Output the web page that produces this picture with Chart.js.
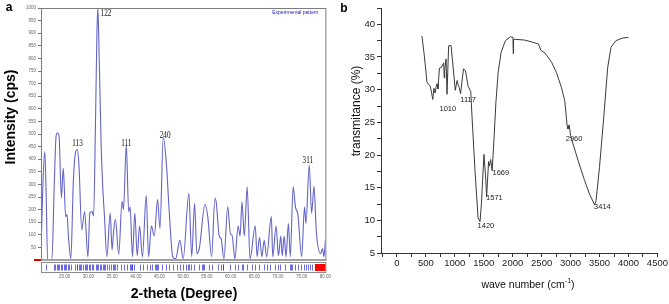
<!DOCTYPE html>
<html>
<head>
<meta charset="utf-8">
<script src="https://cdn.jsdelivr.net/npm/chart.js@4.4.1/dist/chart.umd.min.js"></script>
<style>
html,body{margin:0;padding:0;background:#fff;}
#wrap{position:relative;width:669px;height:304px;overflow:hidden;}
#xrdChart{position:absolute;left:0;top:0;}
#ftirChart{position:absolute;left:330px;top:0;}
</style>
</head>
<body>
<div id="wrap">
<canvas id="xrdChart" width="345" height="304"></canvas>
<canvas id="ftirChart" width="339" height="304"></canvas>
</div>
<script>
// panel a : XRD pattern
const xrdAngle = [20.0,20.4,20.8,21.1,21.4,22.3,22.8,23.2,23.5,23.8,24.3,24.7,25.2,25.5,25.8,26.3,26.8,27.1,27.6,28.0,28.6,29.2,29.9,30.3,30.8,31.1,31.5,31.8,32.0,32.2,32.4,32.7,33.0,33.4,33.9,34.6,35.0,35.3,35.7,36.4,37.1,37.4,38.0,38.5,38.8,39.3,39.8,40.3,40.8,41.4,42.2,42.7,43.3,43.9,44.6,45.1,45.8,46.5,47.0,47.8,48.4,49.3,50.0,51.2,51.8,52.4,52.9,53.4,54.6,55.2,56.0,56.7,57.0,57.6,58.0,58.6,59.4,60.0,60.3,60.9,61.6,62.0,62.4,62.9,63.5,64.1,65.2,65.6,66.1,66.6,67.1,67.6,68.6,68.9,69.6,70.1,70.6,70.9,71.3,71.7,72.2,72.6,73.2,73.7,74.2,75.0,75.6,75.9,76.6,77.1,77.6,78.1,79.0,79.4,79.7,80.0];
const xrdCounts = [30,300,430,250,0,0,300,495,505,495,246,365,172,180,90,5,300,400,439,380,119,192,13,186,192,175,550,900,1000,870,700,450,300,170,13,186,40,110,162,22,233,200,457,192,210,13,185,17,135,13,257,13,135,95,240,125,487,370,210,13,5,78,5,265,13,225,25,45,220,170,13,245,225,95,85,4,212,100,100,4,135,95,230,95,290,4,135,13,90,13,78,13,172,13,135,17,95,17,95,13,145,13,290,210,180,13,210,145,377,185,293,110,25,45,13,80];
const reflections = [21.1,22.8,23.0,23.3,23.5,23.9,24.2,24.4,24.8,25.1,25.3,25.6,26.0,26.4,27.2,27.5,27.7,28.0,28.3,28.5,28.9,29.2,29.5,29.8,30.1,30.4,30.7,31.0,31.6,31.9,32.1,32.4,32.7,33.0,33.3,33.6,34.0,34.3,34.7,35.2,35.5,35.7,36.0,36.9,37.5,38.1,38.7,38.9,39.1,39.3,39.6,40.8,41.6,42.3,43.0,43.4,44.0,44.2,44.4,44.6,45.6,46.4,47.0,47.9,48.6,49.3,50.0,50.5,51.0,51.3,51.6,52.3,53.3,54.0,54.2,54.4,55.4,56.0,57.3,58.0,58.3,58.5,59.8,60.9,61.6,62.4,62.6,63.5,64.5,65.1,66.0,67.0,67.6,68.4,69.3,70.0,70.5,71.4,72.6,72.8,73.0,73.6,74.3,74.9,75.4,76.0,76.3,76.8,77.1];
const excludedRange = [77.8, 80];
const xrdPeakText = ['122','113','111','240','311'];
const xrdPeakAt = [33.7,27.7,38.0,46.2,76.3];
const xrdPeakLevel = [977,461,461,495,397];

// panel b : FTIR spectrum
const ftirWave = [433,470,500,518,547,575,600,620,640,660,680,695,710,735,770,809,818,826,849,866,894,935,974,1009,1040,1060,1077,1100,1151,1185,1231,1276,1300,1350,1402,1436,1460,1504,1530,1550,1584,1600,1620,1646,1680,1710,1749,1800,1875,1960,2005,2010,2015,2046,2200,2330,2444,2490,2559,2672,2757,2843,2900,2940,2955,2975,3000,3026,3128,3242,3328,3414,3440,3499,3573,3641,3698,3783,3897,4000];
const ftirTrans = [38.2,35.5,33.0,31.2,30.8,30.6,29.5,28.5,30.2,29.5,30.5,30.9,30.1,33.3,33.4,34.1,31.8,33.0,34.7,29.3,36.7,36.8,33.2,29.9,31.4,30.7,30.3,29.4,33.2,32.9,30.5,29.7,25.5,17.5,10.4,9.8,12.5,20.1,17.0,13.6,19.0,18.3,19.3,17.6,22.9,28.0,32.6,35.7,37.5,38.1,38.0,35.5,37.7,37.7,37.6,37.3,37.0,36.0,35.6,34.2,32.6,30.3,28.3,24.5,24.0,24.6,23.0,22.2,19.2,16.1,14.0,12.4,13.0,18.1,25.8,33.4,36.5,37.5,37.9,38.0];
const ftirWaveTicks = [-250,0,250,500,750,1000,1250,1500,1750,2000,2250,2500,2750,3000,3250,3500,3750,4000,4250,4500];
const ftirPeakText = ['1010','1117','1669','1571','1420','2960','3414'];
const ftirPeakAt = [880,1231,1795,1684,1538,3060,3550];
const ftirPeakLevel = [27.1,28.5,17.2,13.4,9.2,22.5,12.1];

const sans = "'Liberation Sans', Arial, sans-serif";

const xrdDecor = {
  id: 'xrdDecor',
  afterDatasetsDraw(chart){
    const {ctx, chartArea:a, scales:{x, y}} = chart;
    ctx.save();
    // frame
    ctx.strokeStyle = '#7d7d7d';
    ctx.lineWidth = 1;
    ctx.strokeRect(a.left+0.5, a.top+0.5, a.right-a.left, a.bottom-a.top);
    ctx.strokeStyle = '#a0a0a0';
    ctx.lineWidth = 2;
    ctx.beginPath(); ctx.moveTo(a.left, a.bottom); ctx.lineTo(a.right+1, a.bottom); ctx.stroke();
    // reflection band
    const bTop = a.bottom+2, bH = 10;
    ctx.lineWidth = 1;
    ctx.strokeStyle = '#8a8a8a';
    ctx.strokeRect(a.left+0.5, bTop+0.5, a.right-a.left, bH);
    ctx.fillStyle = '#ff0000';
    const r0 = x.getPixelForValue(excludedRange[0]), r1 = x.getPixelForValue(excludedRange[1]);
    ctx.fillRect(r0, bTop+2, r1-r0, bH-3);
    ctx.strokeStyle = 'rgba(45,45,215,0.7)';
    ctx.lineWidth = 1;
    reflections.forEach(r => {
      const px = Math.round(x.getPixelForValue(r))+0.5;
      ctx.beginPath(); ctx.moveTo(px, bTop+2.5); ctx.lineTo(px, bTop+bH-1.5); ctx.stroke();
    });
    // red zero mark
    ctx.strokeStyle = '#e00000';
    ctx.lineWidth = 2;
    const y0 = y.getPixelForValue(0);
    ctx.beginPath(); ctx.moveTo(a.left-7, y0); ctx.lineTo(a.left, y0); ctx.stroke();
    // legend text
    ctx.fillStyle = '#2020c8';
    ctx.font = '5px ' + sans;
    ctx.textAlign = 'right';
    ctx.textBaseline = 'middle';
    ctx.fillText('Experimental pattern', a.right-7, a.top+5);
    // peak labels
    ctx.fillStyle = '#111';
    ctx.textAlign = 'center';
    xrdPeakText.forEach((t,i) => {
      const px = x.getPixelForValue(xrdPeakAt[i]), py = y.getPixelForValue(xrdPeakLevel[i]);
      ctx.save();
      ctx.translate(px, py);
      ctx.scale(0.72, 1);
      ctx.font = "10px 'Liberation Serif', serif";
      ctx.fillText(t, 0, 0);
      ctx.restore();
    });
    // titles
    ctx.fillStyle = '#000';
    ctx.font = 'bold 14px ' + sans;
    ctx.fillText('2-theta (Degree)', 184, 294);
    ctx.save();
    ctx.translate(11, 117);
    ctx.rotate(-Math.PI/2);
    ctx.fillText('Intensity (cps)', 0, 0);
    ctx.restore();
    ctx.font = 'bold 12px ' + sans;
    ctx.fillText('a', 9, 8);
    ctx.restore();
  }
};

const ftirDecor = {
  id: 'ftirDecor',
  afterDatasetsDraw(chart){
    const {ctx, scales:{x, y}} = chart;
    ctx.save();
    ctx.fillStyle = '#222';
    ctx.textAlign = 'center';
    ctx.textBaseline = 'middle';
    ctx.font = '7.5px ' + sans;
    ftirPeakText.forEach((t,i) => {
      ctx.fillText(t, x.getPixelForValue(ftirPeakAt[i]), y.getPixelForValue(ftirPeakLevel[i]));
    });
    // axis titles
    ctx.fillStyle = '#111';
    ctx.font = '12px ' + sans;
    ctx.save();
    ctx.translate(27, 111);
    ctx.rotate(-Math.PI/2);
    ctx.fillText('transmitance (%)', 0, 0);
    ctx.restore();
    ctx.font = '10.5px ' + sans;
    const main = 'wave number (cm', sup = '-1', tail = ')';
    const w1 = ctx.measureText(main).width;
    ctx.font = '7px ' + sans;
    const w2 = ctx.measureText(sup).width;
    ctx.font = '10.5px ' + sans;
    const w3 = ctx.measureText(tail).width;
    let sx = 198 - (w1+w2+w3)/2;
    ctx.textAlign = 'left';
    ctx.fillText(main, sx, 285);
    ctx.font = '7px ' + sans;
    ctx.fillText(sup, sx+w1, 281);
    ctx.font = '10.5px ' + sans;
    ctx.fillText(tail, sx+w1+w2, 285);
    ctx.textAlign = 'center';
    ctx.font = 'bold 12px ' + sans;
    ctx.fillStyle = '#000';
    ctx.fillText('b', 14, 9);
    ctx.restore();
  }
};

new Chart(document.getElementById('xrdChart'), {
  type: 'line',
  data: {
    datasets: [{
      label: 'Experimental pattern',
      data: xrdAngle.map((a,i) => ({x:a, y:xrdCounts[i]})),
      borderColor: 'rgba(60,60,185,0.8)',
      borderWidth: 1.1,
      pointRadius: 0,
      cubicInterpolationMode: 'monotone',
      fill: false
    }]
  },
  options: {
    responsive: false,
    animation: false,
    layout: { padding: { left:0, top:8, right:9, bottom:0 } },
    plugins: { legend: { display:false }, tooltip: { enabled:false } },
    scales: {
      x: {
        type: 'linear', min:20, max:80,
        afterFit: s => { s.height = 44; },
        grid: { display:false, drawTicks:false },
        border: { display:false },
        ticks: { stepSize:5, padding:14, autoSkip:false, maxRotation:0, color:'#666',
          font: { size:4.5, family:sans },
          callback: v => v >= 25 ? v.toFixed(2) : '' }
      },
      y: {
        min:0, max:1000,
        afterFit: s => { s.width = 41; },
        grid: { drawOnChartArea:false, drawTicks:true, tickLength:3, color:'#777' },
        border: { display:true, color:'#666' },
        ticks: { stepSize:50, padding:2, autoSkip:false, color:'#666',
          font: { size:4.5, family:sans },
          callback: v => v === 0 ? '' : v }
      }
    }
  },
  plugins: [xrdDecor]
});

new Chart(document.getElementById('ftirChart'), {
  type: 'line',
  data: {
    datasets: [{
      label: 'FTIR',
      data: ftirWave.map((w,i) => ({x:w, y:ftirTrans[i]})),
      borderColor: '#3a3a3a',
      borderWidth: 1,
      pointRadius: 0,
      tension: 0,
      fill: false
    }]
  },
  options: {
    responsive: false,
    animation: false,
    layout: { padding: { left:0, top:8, right:9, bottom:0 } },
    plugins: { legend: { display:false }, tooltip: { enabled:false } },
    scales: {
      x: {
        type: 'linear', min:-274, max:4500,
        afterFit: s => { s.height = 51; },
        afterBuildTicks: s => { s.ticks = ftirWaveTicks.map(v => ({value:v})); },
        grid: { drawOnChartArea:false, drawTicks:true, tickLength:4, color:'#333' },
        border: { display:true, color:'#333' },
        ticks: { padding:1, autoSkip:false, maxRotation:0, color:'#222',
          font: { size:9.5, family:sans },
          callback: v => v % 500 === 0 ? v : '' }
      },
      y: {
        min:5, max:42.5,
        afterFit: s => { s.width = 51; },
        grid: { drawOnChartArea:false, drawTicks:true, tickLength:4, color:'#333' },
        border: { display:true, color:'#333' },
        ticks: { stepSize:2.5, padding:2, autoSkip:false, color:'#222',
          font: { size:9.5, family:sans },
          callback: v => v % 5 === 0 ? v : '' }
      }
    }
  },
  plugins: [ftirDecor]
});
</script>
</body>
</html>
